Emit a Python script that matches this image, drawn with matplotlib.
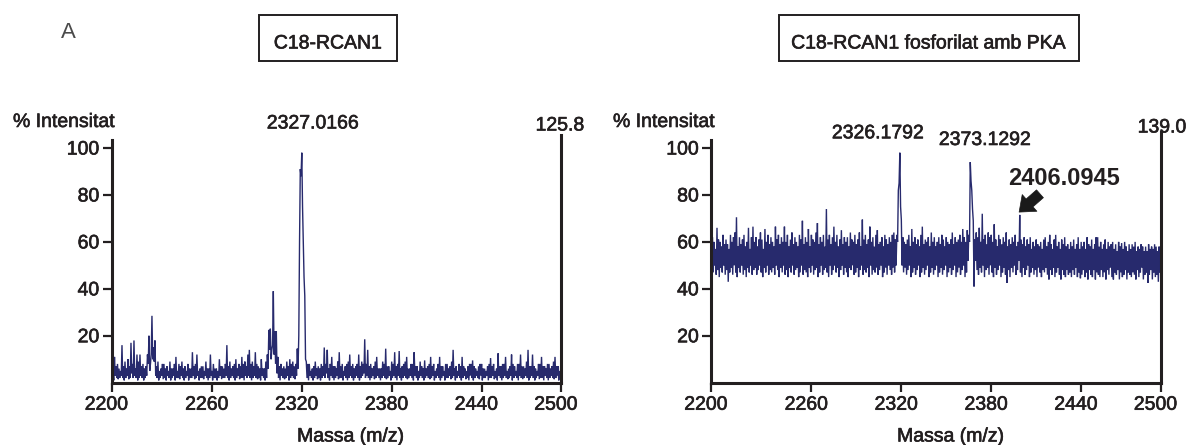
import matplotlib
matplotlib.use('Agg')
import matplotlib.pyplot as plt
import matplotlib.patheffects as pe
from matplotlib.patches import Rectangle
from matplotlib.transforms import ScaledTranslation
import numpy as np

plt.rcParams['font.family'] = ['Liberation Sans', 'DejaVu Sans']

# ---------------- data ----------------
MZ_START, MZ_END = 2200, 2500

# C18-RCAN1: upper tips of the noise, at each whole m/z (2200..2500)
left_hi = [
    6, 5, 11, 7, 8, 6, 5, 16, 7, 9,
    6, 10, 7, 17, 8, 18, 6, 12, 9, 12,
    7, 8, 6, 7, 12, 20, 8, 28.5, 15, 18,
    7, 9, 5, 6, 8, 8, 6, 7, 5, 9,
    6, 6, 8, 11, 5, 8, 7, 9, 6, 7,
    5, 8, 6, 6, 13, 7, 8, 12, 5, 6,
    7, 7, 5, 9, 6, 6, 12, 5, 8, 6,
    6, 5, 10, 7, 7, 6, 8, 16, 7, 9,
    6, 7, 8, 10, 6, 8, 7, 11, 8, 9,
    7, 12, 14, 8, 9, 7, 13, 8, 7, 6,
    10, 6, 6, 9, 12, 22.5, 23, 14, 39, 22,
    22, 11, 7, 8, 6, 7, 6, 9, 7, 10,
    8, 9, 7, 8, 14.5, 20, 91, 98, 59, 37,
    9, 8, 8, 5, 6, 7, 9, 6, 7, 6,
    8, 7, 15, 8, 14, 6, 8, 11, 7, 7,
    6, 9, 13, 7, 8, 5, 7, 8, 9, 12,
    7, 8, 6, 7, 8, 12, 7, 9, 8, 18.5,
    8, 14, 7, 8, 6, 7, 9, 11, 6, 6,
    6, 9, 8, 14.5, 7, 7, 5, 9, 8, 13,
    7, 8, 13.5, 6, 7, 8, 9, 11, 6, 6,
    8, 8, 13, 7, 7, 5, 9, 7, 6, 9.5,
    6, 7, 8, 11, 7, 8, 5, 6, 8, 11,
    7, 7, 5, 8, 8, 6, 7, 9, 14, 6,
    7, 5, 8, 7, 11, 7, 6, 5, 7, 8,
    8, 9.5, 7, 6, 5, 7, 8, 8, 6, 6,
    5, 7, 8, 10.5, 7, 8, 5, 6, 12.5, 7,
    7, 8, 8, 11, 5, 6, 7, 12, 8, 7,
    5, 8, 8, 12, 7, 7, 6, 9, 14, 7,
    7, 12, 7, 6, 5, 8, 8, 11, 7, 7,
    6, 8, 8, 6, 7, 9, 11, 7, 7, 5,
    10,
]
# C18-RCAN1: lower tips of the noise, at each half m/z (2200.5..2499.5)
left_lo = [
    2, 1, 3, 2, 1.5, 2, 3, 2, 1, 2,
    3, 1.5, 2, 4, 2, 3, 2, 1, 2, 3,
    2, 1, 2, 3, 8, 5, 12, 10, 9, 3,
    2, 1, 2, 3, 1.5, 2, 1, 3, 2, 1,
    2, 3, 1, 2, 2, 1.5, 3, 2, 1, 2,
    3, 1, 2, 2, 3, 1.5, 2, 3, 1, 2,
    2, 1.5, 3, 2, 1, 2, 3, 1, 2, 2,
    1, 2, 3, 1.5, 2, 2, 3, 2, 1, 2,
    3, 2, 1, 2, 3, 1.5, 2, 2, 1, 3,
    2, 3, 2, 1, 2, 3, 2, 1.5, 2, 1,
    3, 2, 1, 2, 6, 14, 10, 16, 12, 8,
    4, 2, 1, 3, 2, 1.5, 2, 3, 1, 2,
    3, 2, 1.5, 3, 6, 60, 88, 75, 45, 10,
    2, 1, 3, 2, 1, 2, 3, 1.5, 2, 1,
    2, 3, 2, 4, 2, 1, 3, 2, 1, 2,
    3, 1.5, 2, 2, 1, 3, 2, 1, 2, 3,
    2, 1, 2, 3, 2, 1, 2, 3, 4, 2,
    3, 2, 1, 2, 3, 1.5, 2, 3, 2, 1,
    2, 3, 2, 1.5, 2, 3, 1, 2, 3, 2,
    1, 3, 2, 1, 2, 3, 2, 1.5, 2, 3,
    2, 1, 3, 2, 1, 2, 3, 2, 1, 2,
    3, 2, 1.5, 2, 3, 1, 2, 3, 2, 1,
    2, 3, 1, 2, 2, 3, 1.5, 2, 3, 1,
    2, 3, 2, 1, 2, 3, 1.5, 2, 1, 3,
    2, 1, 2, 3, 2, 1.5, 3, 1, 2, 2,
    3, 1, 2, 2, 3, 1.5, 2, 1, 3, 2,
    1, 2, 3, 2, 1.5, 2, 3, 1, 2, 3,
    2, 1, 3, 2, 1.5, 2, 3, 2, 1, 2,
    3, 2, 1, 2, 3, 1.5, 2, 2, 1, 3,
    2, 1, 2, 3, 2, 1.5, 2, 3, 1, 2,
]

# C18-RCAN1 fosforilat amb PKA: upper tips (2200..2500)
right_hi = [
    58, 62, 60, 57, 66, 61, 60, 58, 63, 59,
    61, 59, 57, 63, 60, 62, 64, 70.5, 58, 62,
    59, 61, 63, 58, 60, 66, 57, 62, 66.5, 60,
    62, 58, 61, 64, 61, 57, 65.5, 60, 63, 59,
    62, 60, 58, 66.5, 61, 63, 59, 62, 60, 66.5,
    60, 63, 58, 61, 64, 59, 62, 60, 58, 63,
    61, 69, 59, 62, 60, 65.5, 58, 63, 61, 60,
    64, 68, 59, 62, 60, 63, 58, 74, 61, 63,
    59, 62, 66.5, 60, 63, 58, 61, 65, 59, 62,
    60, 62, 58, 64, 61, 60, 63, 59, 61, 64,
    58, 69.5, 61, 63, 59, 61, 66.5, 60, 62, 58,
    63, 65, 59, 60, 62, 58, 63, 61, 59, 62,
    60, 63, 64, 61, 63, 82, 98, 69.5, 62, 60,
    59, 61, 63, 58, 65.5, 60, 62, 59, 61, 58,
    63, 66.5, 59, 61, 60, 62, 58, 64, 60, 62,
    58, 60, 62, 59, 63, 61, 58, 62, 60, 59,
    61, 64, 59, 62, 60, 61, 63, 60, 65.5, 62,
    60, 65, 63, 94, 82, 69, 61, 64, 62, 66,
    60, 72, 61, 63, 59, 64, 62, 63, 60, 67.5,
    61, 58, 63, 61, 59, 62, 60, 64, 58, 61,
    59, 62, 60, 63, 58, 60, 71.5, 61, 59, 62,
    58, 61, 59, 62, 57, 60, 58, 61, 59, 58,
    60, 57, 61, 62, 58, 60, 63, 59, 57, 61,
    63, 58, 60, 57, 61, 59, 62, 58, 59, 57,
    60, 58, 61, 57, 59, 62, 57, 60, 58, 60,
    57, 62, 59, 58, 61, 57, 59, 62, 62, 58,
    60, 57, 59, 61, 57, 60, 58, 59, 60, 57,
    59, 56, 60, 58, 59.5, 57, 60, 58, 56, 59,
    57, 59, 58, 60, 56, 58, 57, 59, 58, 56,
    58, 56, 59, 57, 58, 57, 59, 58, 56, 58,
    55,
]
# C18-RCAN1 fosforilat amb PKA: lower tips (2200.5..2499.5)
right_lo = [
    49, 47, 50, 46, 48, 45, 49, 47, 50, 46,
    48, 43, 47, 49, 46, 50, 47, 45, 49, 47,
    50, 46, 48, 45, 49, 47, 50, 46, 48, 49,
    46, 48, 50, 47, 45, 49, 47, 50, 46, 48,
    47, 49, 46, 50, 48, 45, 49, 47, 50, 46,
    48, 45, 49, 47, 50, 46, 48, 49, 45, 47,
    50, 46, 48, 47, 45, 49, 47, 50, 46, 48,
    49, 45, 47, 50, 46, 48, 49, 47, 45, 50,
    46, 48, 50, 47, 49, 45, 48, 50, 46, 49,
    47, 45, 49, 48, 50, 46, 47, 49, 45, 48,
    50, 46, 48, 47, 49, 45, 50, 46, 48, 47,
    49, 46, 48, 50, 45, 47, 49, 46, 50, 48,
    46, 49, 47, 50, 60, 85, 75, 50, 47, 49,
    46, 48, 50, 45, 47, 49, 46, 48, 50, 45,
    47, 49, 46, 48, 50, 45, 47, 49, 46, 48,
    50, 45, 47, 49, 46, 48, 50, 45, 47, 49,
    46, 48, 50, 45, 47, 49, 46, 48, 50, 45,
    47, 52, 60, 86, 74, 41, 52, 48, 46, 49,
    47, 50, 45, 48, 49, 46, 50, 47, 45, 49,
    46, 48, 50, 45, 47, 49, 46, 42.5, 48, 45,
    49, 47, 50, 46, 48, 52, 47, 45, 49, 46,
    48, 50, 45, 47, 49, 46, 48, 45, 49, 47,
    45, 48, 47, 49, 46, 44, 48, 46, 49, 45,
    47, 49, 46, 44, 48, 46, 45, 48, 46, 47,
    45, 48, 46, 49, 45, 47, 44.5, 46, 48, 45,
    47, 44, 48, 46, 45, 48, 44, 47, 46, 45,
    48, 45, 47, 44, 48, 46, 49, 45, 44, 47,
    46, 48, 44, 47, 45, 46, 48, 44, 47, 46,
    45, 47, 46, 44, 48, 45, 47, 49, 44, 46,
    47, 42.5, 46, 48, 44, 47, 45, 46, 43, 47,
]

xtick_pos = [2200, 2267, 2327, 2387, 2447, 2500]
xtick_labels = ['2200', '2260', '2320', '2380', '2440', '2500']
ytick_vals = [20, 40, 60, 80, 100]

titles = ['C18-RCAN1', 'C18-RCAN1 fosforilat amb PKA']
max_labels = ['125.8', '139.0']
peak_left = ['2327.0166']
peak_right = ['2326.1792', '2373.1292']
highlight_label = '2406.0945'
highlight_peak = (2405.6, 72.7)
highlight_tail = (2419.5, 80.5)

# ---------------- figure ----------------
W, H = 1189, 445
fig = plt.figure(figsize=(W / 100, H / 100), dpi=100)
SPEC = '#272a6d'
INK = '#231f20'
BOLDEN = [pe.withStroke(linewidth=0.45, foreground=INK)]


def fx(px):
    return px / W


def fy(py):
    return 1 - py / H


mz_whole = np.arange(MZ_START, MZ_END + 1)
mz_half = np.arange(MZ_START, MZ_END) + 0.5


def spectrum(hi, lo):
    x = np.empty(len(hi) + len(lo))
    y = np.empty_like(x)
    x[0::2], x[1::2] = mz_whole, mz_half
    y[0::2], y[1::2] = hi, lo
    return x, y


def make_axes(x0, x1, right_top, hi, lo):
    y_bot, y_top = 382.7, 131.6
    ax = fig.add_axes([fx(x0), fy(y_bot), (x1 - x0) / W, (y_bot - y_top) / H])
    x, y = spectrum(hi, lo)
    ax.plot(x, y, color=SPEC, lw=1.0, solid_joinstyle='miter')
    ax.set_xlim(MZ_START, MZ_END)
    ax.set_ylim(0, 107)
    ax.patch.set_alpha(0)
    ax.spines['top'].set_visible(False)
    for s in ['left', 'bottom', 'right']:
        ax.spines[s].set_linewidth(2.2)
        ax.spines[s].set_color(INK)
    ax.spines['left'].set_bounds(0, 103.4)
    ax.spines['right'].set_bounds(0, right_top)
    ax.set_xticks(xtick_pos, xtick_labels)
    ax.set_yticks(ytick_vals)
    ax.tick_params(axis='both', direction='out', length=6.5, width=1.6,
                   labelsize=14, colors=INK)
    ax.tick_params(axis='y', pad=2.2)
    ax.tick_params(axis='x', pad=3.6)
    ax.yaxis.set_ticks_position('left')
    ax.xaxis.set_ticks_position('bottom')
    for lab in ax.get_xticklabels():
        lab.set_transform(lab.get_transform() +
                          ScaledTranslation(-5 / 100, 0, fig.dpi_scale_trans))
        lab.set_path_effects(BOLDEN)
    for lab in ax.get_yticklabels():
        lab.set_path_effects(BOLDEN)
    return ax


ax1 = make_axes(111.5, 561.0, 105.5, left_hi, left_lo)
ax2 = make_axes(711.0, 1160.6, 106.8, right_hi, right_lo)


def ftext(px, py, s, size=14, weight='normal', ha='center', color=INK,
          effects=BOLDEN):
    fig.text(fx(px), fy(py), s, ha=ha, va='baseline', fontsize=size,
             fontweight=weight, color=color, path_effects=effects)


# panel letter
ftext(68, 38, 'A', size=16, color='#4a4a4a', effects=None)

# title boxes
for (bx0, bx1), title in zip([(259, 397), (779, 1079)], titles):
    fig.patches.append(Rectangle((fx(bx0), fy(61)), (bx1 - bx0) / W, 46 / H,
                                 transform=fig.transFigure, fill=False,
                                 lw=1.4, ec=INK))
    ftext((bx0 + bx1) / 2, 48.5, title, size=14)

# y labels
ftext(13, 127, '% Intensitat', ha='left')
ftext(613, 127, '% Intensitat', ha='left')

# max intensities
ftext(560, 130.5, max_labels[0])
ftext(1162, 132.5, max_labels[1])

# peak labels
ftext(313, 128.5, peak_left[0])
ftext(878, 138.3, peak_right[0])
ftext(985, 145, peak_right[1])
ftext(1064, 185, highlight_label, size=17, weight='bold', effects=None)

ax2.annotate('', xy=highlight_peak, xytext=highlight_tail,
             arrowprops=dict(arrowstyle='simple,head_length=1.0,head_width=1.6,tail_width=0.75',
                             fc='#1a1a1a', ec='#1a1a1a', lw=0.5,
                             mutation_scale=10, shrinkA=0, shrinkB=0))

# x labels
ftext(351, 441.5, 'Massa (m/z)')
ftext(951, 441.5, 'Massa (m/z)')

fig.savefig('out.png', dpi=100)
